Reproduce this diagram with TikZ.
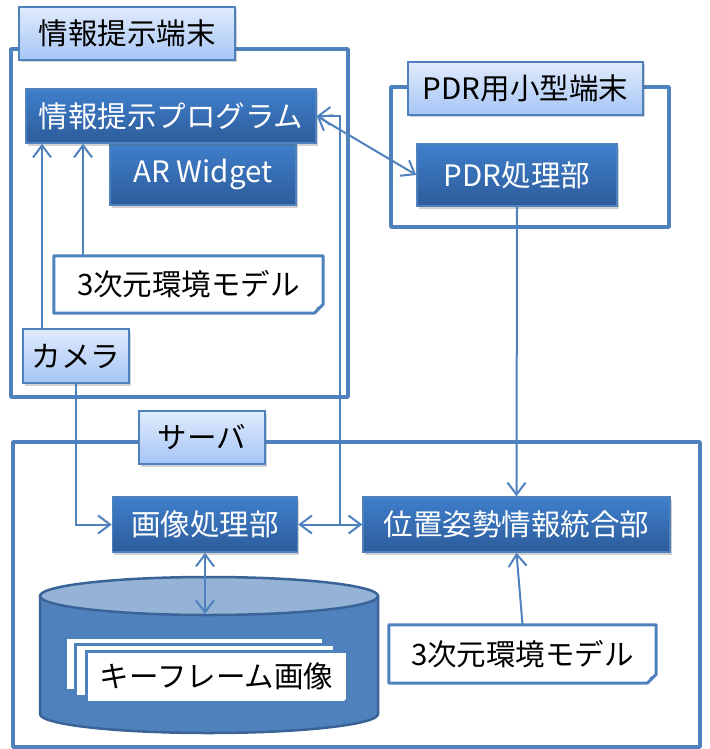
\documentclass[tikz,border=0pt]{standalone}
\usepackage{fontspec}
\setmainfont{Noto Sans CJK JP}
\usetikzlibrary{arrows.meta,shadows,calc}

\definecolor{lineblue}{HTML}{4F81BD}
\definecolor{darktop}{HTML}{3F7FCC}
\definecolor{darkbot}{HTML}{2D5C9A}
\definecolor{lighttop}{HTML}{E0EBFC}
\definecolor{lightbot}{HTML}{A6C5F5}
\definecolor{cylbody}{HTML}{4F81BD}
\definecolor{cyltop}{HTML}{95B3D7}
\definecolor{cyledge}{HTML}{3A6497}

% outline of a note with a folded lower right corner
\newcommand{\drawnote}[1]{%
  \draw[lineblue, line width=3pt, line join=round]
    (#1.north west) -- (#1.north east) -- ([yshift=9pt]#1.south east)
    -- ([xshift=-9pt]#1.south east) -- (#1.south west) -- cycle;
  \fill[lineblue] ([yshift=9pt]#1.south east) -- ([xshift=-9pt]#1.south east)
    -- ([xshift=-6pt,yshift=6pt]#1.south east) -- cycle;}

\begin{document}
\begin{tikzpicture}[x=1pt,y=-1pt,
  txt/.style={font=\fontsize{29.5}{34}\selectfont, inner sep=0pt, align=center},
  boxshadow/.style={drop shadow={shadow xshift=1.5pt, shadow yshift=-2.5pt, opacity=0.3, fill=black!60}},
  darkbox/.style={txt, text=white, draw=lineblue, line width=1.5pt,
    top color=darktop, bottom color=darkbot, boxshadow},
  lightbox/.style={txt, text=black, draw=lineblue, line width=2.5pt,
    top color=lighttop, bottom color=lightbot, boxshadow},
  frame/.style={draw=lineblue, line width=3.5pt, line join=round},
  notebox/.style={txt, text=black},
  tip/.tip={Straight Barb[length=12pt,width=18pt]},
  arr/.style={draw=lineblue, line width=2pt, -tip},
  biarr/.style={draw=lineblue, line width=2pt, tip-tip},
]
\useasboundingbox (0,0) rectangle (709,749);

% --- frames of the three devices
\draw[frame] (11,49) rectangle (348,397);
\draw[frame] (391,87) rectangle (669,227);
\draw[frame] (13,442) rectangle (700,747);

% --- titles
\node[lightbox, minimum width=216pt, minimum height=53pt] (t1) at (127,33.5) {情報提示端末};
\node[lightbox, minimum width=235pt, minimum height=53pt] (t2) at (525.5,88.5) {PDR用小型端末};
\node[lightbox, minimum width=126pt, minimum height=53pt] (t3) at (202,437.5) {サーバ};

% --- information terminal
\node[darkbox, minimum width=186pt, minimum height=62pt] (arw) at (203,174) {AR Widget};
\node[darkbox, minimum width=290pt, minimum height=54pt] (prog) at (171,116) {情報提示プログラム};
\node[notebox, minimum width=269pt, minimum height=57pt] (env1) at (188.5,284.5) {3次元環境モデル};
\drawnote{env1}
\node[lightbox, minimum width=106pt, minimum height=54pt] (cam) at (76,356) {カメラ};

% --- PDR terminal
\node[darkbox, minimum width=200pt, minimum height=62pt] (pdr) at (517,175) {PDR処理部};

% --- server
\node[darkbox, minimum width=185pt, minimum height=55pt] (img) at (205,524.5) {画像処理部};
\node[darkbox, minimum width=307pt, minimum height=55pt] (pos) at (516.5,524.5) {位置姿勢情報統合部};
\node[notebox, minimum width=267pt, minimum height=58pt] (env2) at (522.5,654) {3次元環境モデル};
\drawnote{env2}

% key frame database
\fill[cylbody] (40,596) rectangle (378,714);
\fill[cylbody] (209,714) ellipse [x radius=169, y radius=19];
\draw[cyledge, line width=2.5pt] (40,596) -- (40,714)
  arc[start angle=180, end angle=0, x radius=169, y radius=19] -- (378,596);
\draw[cyledge, line width=2.5pt, fill=cyltop] (209,596) ellipse [x radius=169, y radius=19];
\coordinate (dbtop) at (205,614);
\draw[cylbody, line width=3pt, fill=white] (65,637) rectangle (323,690);
\draw[cylbody, line width=3pt, fill=white] (75,644) rectangle (334,696);
\node[txt, text=black, fill=white, draw=cylbody, line width=3pt,
  minimum width=261pt, minimum height=51pt] (kf) at (216.5,676.5) {キーフレーム画像};
\fill[cylbody] ([yshift=7pt]kf.south east) -- ([xshift=-7pt]kf.south east)
  -- (kf.south east) -- cycle;

% --- connectors
\coordinate (c1) at (42,0);
\coordinate (c2) at (83,0);
\coordinate (j) at (340,524.5);
\draw[arr] (c1 |- cam.north) -- (c1 |- prog.south);
\draw[arr] (c2 |- env1.north) -- (c2 |- prog.south);
\draw[arr] (cam.south) |- (img.west);
\draw[biarr] (prog.east) -- (pdr.west);
\draw[arr] (j) |- (prog.east);
\draw[biarr] (img.east) -- (pos.west);
\draw[arr] (pdr.south) -- (pos.north);
\draw[arr] (env2.north) -- (pos.south);
\draw[biarr] (img.south) -- (img.south |- dbtop);
\end{tikzpicture}
\end{document}
